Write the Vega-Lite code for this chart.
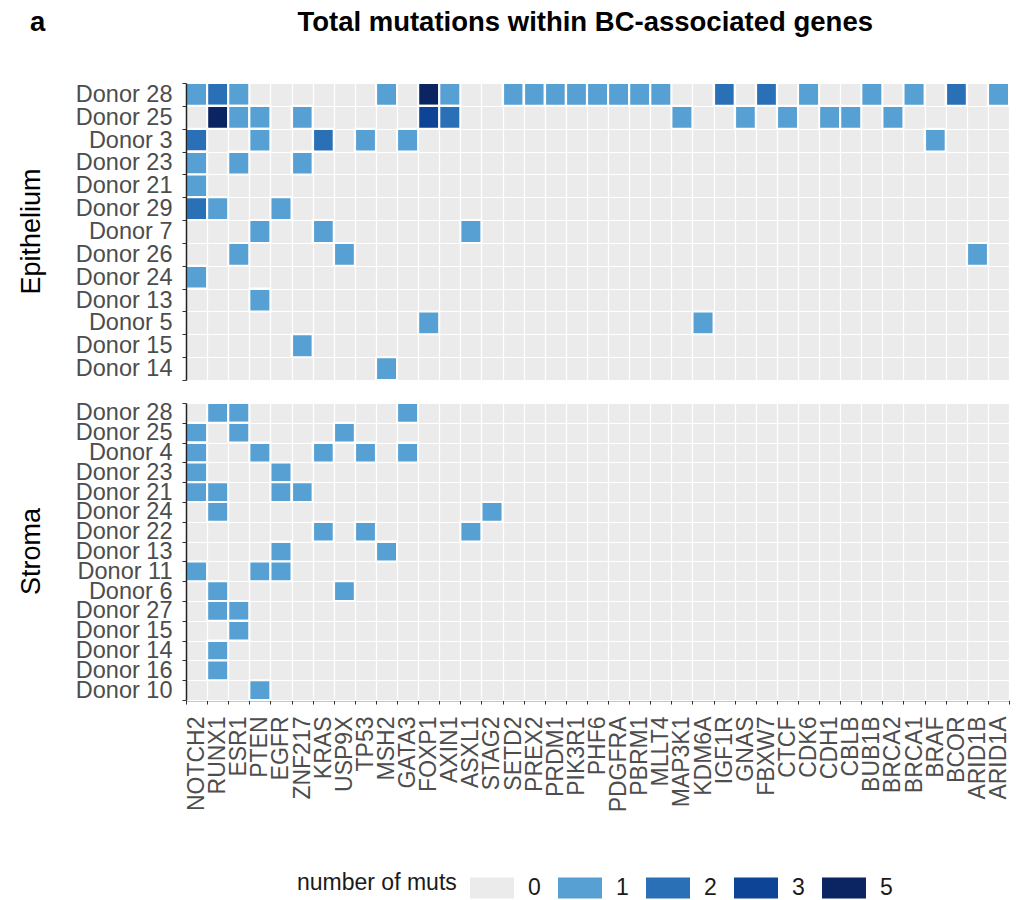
{
  "$schema": "https://vega.github.io/schema/vega-lite/v6.json",
  "padding": {"left": 18, "top": 8, "right": 10, "bottom": 0},
  "background": "white",
  "title": {"text": "a\u00a0\u00a0\u00a0\u00a0\u00a0\u00a0\u00a0\u00a0\u00a0\u00a0\u00a0\u00a0\u00a0\u00a0\u00a0\u00a0\u00a0\u00a0\u00a0\u00a0\u00a0\u00a0\u00a0\u00a0\u00a0\u00a0\u00a0\u00a0\u00a0\u00a0\u00a0\u00a0\u00a0Total mutations within BC-associated genes", "anchor": "start", "fontSize": 27.5, "fontWeight": "bold", "font": "Liberation Sans", "color": "black", "offset": 35, "dx": 12},
  "data": {
    "values": [
      {"p": "Epithelium", "d": "Donor 28", "g": "NOTCH2", "n": 1},
      {"p": "Epithelium", "d": "Donor 28", "g": "RUNX1", "n": 2},
      {"p": "Epithelium", "d": "Donor 28", "g": "ESR1", "n": 1},
      {"p": "Epithelium", "d": "Donor 28", "g": "MSH2", "n": 1},
      {"p": "Epithelium", "d": "Donor 28", "g": "FOXP1", "n": 5},
      {"p": "Epithelium", "d": "Donor 28", "g": "AXIN1", "n": 1},
      {"p": "Epithelium", "d": "Donor 28", "g": "SETD2", "n": 1},
      {"p": "Epithelium", "d": "Donor 28", "g": "PREX2", "n": 1},
      {"p": "Epithelium", "d": "Donor 28", "g": "PRDM1", "n": 1},
      {"p": "Epithelium", "d": "Donor 28", "g": "PIK3R1", "n": 1},
      {"p": "Epithelium", "d": "Donor 28", "g": "PHF6", "n": 1},
      {"p": "Epithelium", "d": "Donor 28", "g": "PDGFRA", "n": 1},
      {"p": "Epithelium", "d": "Donor 28", "g": "PBRM1", "n": 1},
      {"p": "Epithelium", "d": "Donor 28", "g": "MLLT4", "n": 1},
      {"p": "Epithelium", "d": "Donor 28", "g": "IGF1R", "n": 2},
      {"p": "Epithelium", "d": "Donor 28", "g": "FBXW7", "n": 2},
      {"p": "Epithelium", "d": "Donor 28", "g": "CDK6", "n": 1},
      {"p": "Epithelium", "d": "Donor 28", "g": "BUB1B", "n": 1},
      {"p": "Epithelium", "d": "Donor 28", "g": "BRCA1", "n": 1},
      {"p": "Epithelium", "d": "Donor 28", "g": "BCOR", "n": 2},
      {"p": "Epithelium", "d": "Donor 28", "g": "ARID1A", "n": 1},
      {"p": "Epithelium", "d": "Donor 25", "g": "RUNX1", "n": 5},
      {"p": "Epithelium", "d": "Donor 25", "g": "ESR1", "n": 1},
      {"p": "Epithelium", "d": "Donor 25", "g": "PTEN", "n": 1},
      {"p": "Epithelium", "d": "Donor 25", "g": "ZNF217", "n": 1},
      {"p": "Epithelium", "d": "Donor 25", "g": "FOXP1", "n": 3},
      {"p": "Epithelium", "d": "Donor 25", "g": "AXIN1", "n": 2},
      {"p": "Epithelium", "d": "Donor 25", "g": "MAP3K1", "n": 1},
      {"p": "Epithelium", "d": "Donor 25", "g": "GNAS", "n": 1},
      {"p": "Epithelium", "d": "Donor 25", "g": "CTCF", "n": 1},
      {"p": "Epithelium", "d": "Donor 25", "g": "CDH1", "n": 1},
      {"p": "Epithelium", "d": "Donor 25", "g": "CBLB", "n": 1},
      {"p": "Epithelium", "d": "Donor 25", "g": "BRCA2", "n": 1},
      {"p": "Epithelium", "d": "Donor 3", "g": "NOTCH2", "n": 2},
      {"p": "Epithelium", "d": "Donor 3", "g": "PTEN", "n": 1},
      {"p": "Epithelium", "d": "Donor 3", "g": "KRAS", "n": 2},
      {"p": "Epithelium", "d": "Donor 3", "g": "TP53", "n": 1},
      {"p": "Epithelium", "d": "Donor 3", "g": "GATA3", "n": 1},
      {"p": "Epithelium", "d": "Donor 3", "g": "BRAF", "n": 1},
      {"p": "Epithelium", "d": "Donor 23", "g": "NOTCH2", "n": 1},
      {"p": "Epithelium", "d": "Donor 23", "g": "ESR1", "n": 1},
      {"p": "Epithelium", "d": "Donor 23", "g": "ZNF217", "n": 1},
      {"p": "Epithelium", "d": "Donor 21", "g": "NOTCH2", "n": 1},
      {"p": "Epithelium", "d": "Donor 29", "g": "NOTCH2", "n": 2},
      {"p": "Epithelium", "d": "Donor 29", "g": "RUNX1", "n": 1},
      {"p": "Epithelium", "d": "Donor 29", "g": "EGFR", "n": 1},
      {"p": "Epithelium", "d": "Donor 7", "g": "PTEN", "n": 1},
      {"p": "Epithelium", "d": "Donor 7", "g": "KRAS", "n": 1},
      {"p": "Epithelium", "d": "Donor 7", "g": "ASXL1", "n": 1},
      {"p": "Epithelium", "d": "Donor 26", "g": "ESR1", "n": 1},
      {"p": "Epithelium", "d": "Donor 26", "g": "USP9X", "n": 1},
      {"p": "Epithelium", "d": "Donor 26", "g": "ARID1B", "n": 1},
      {"p": "Epithelium", "d": "Donor 24", "g": "NOTCH2", "n": 1},
      {"p": "Epithelium", "d": "Donor 13", "g": "PTEN", "n": 1},
      {"p": "Epithelium", "d": "Donor 5", "g": "FOXP1", "n": 1},
      {"p": "Epithelium", "d": "Donor 5", "g": "KDM6A", "n": 1},
      {"p": "Epithelium", "d": "Donor 15", "g": "ZNF217", "n": 1},
      {"p": "Epithelium", "d": "Donor 14", "g": "MSH2", "n": 1},
      {"p": "Stroma", "d": "Donor 28", "g": "RUNX1", "n": 1},
      {"p": "Stroma", "d": "Donor 28", "g": "ESR1", "n": 1},
      {"p": "Stroma", "d": "Donor 28", "g": "GATA3", "n": 1},
      {"p": "Stroma", "d": "Donor 25", "g": "NOTCH2", "n": 1},
      {"p": "Stroma", "d": "Donor 25", "g": "ESR1", "n": 1},
      {"p": "Stroma", "d": "Donor 25", "g": "USP9X", "n": 1},
      {"p": "Stroma", "d": "Donor 4", "g": "NOTCH2", "n": 1},
      {"p": "Stroma", "d": "Donor 4", "g": "PTEN", "n": 1},
      {"p": "Stroma", "d": "Donor 4", "g": "KRAS", "n": 1},
      {"p": "Stroma", "d": "Donor 4", "g": "TP53", "n": 1},
      {"p": "Stroma", "d": "Donor 4", "g": "GATA3", "n": 1},
      {"p": "Stroma", "d": "Donor 23", "g": "NOTCH2", "n": 1},
      {"p": "Stroma", "d": "Donor 23", "g": "EGFR", "n": 1},
      {"p": "Stroma", "d": "Donor 21", "g": "NOTCH2", "n": 1},
      {"p": "Stroma", "d": "Donor 21", "g": "RUNX1", "n": 1},
      {"p": "Stroma", "d": "Donor 21", "g": "EGFR", "n": 1},
      {"p": "Stroma", "d": "Donor 21", "g": "ZNF217", "n": 1},
      {"p": "Stroma", "d": "Donor 24", "g": "RUNX1", "n": 1},
      {"p": "Stroma", "d": "Donor 24", "g": "STAG2", "n": 1},
      {"p": "Stroma", "d": "Donor 22", "g": "KRAS", "n": 1},
      {"p": "Stroma", "d": "Donor 22", "g": "TP53", "n": 1},
      {"p": "Stroma", "d": "Donor 22", "g": "ASXL1", "n": 1},
      {"p": "Stroma", "d": "Donor 13", "g": "EGFR", "n": 1},
      {"p": "Stroma", "d": "Donor 13", "g": "MSH2", "n": 1},
      {"p": "Stroma", "d": "Donor 11", "g": "NOTCH2", "n": 1},
      {"p": "Stroma", "d": "Donor 11", "g": "PTEN", "n": 1},
      {"p": "Stroma", "d": "Donor 11", "g": "EGFR", "n": 1},
      {"p": "Stroma", "d": "Donor 6", "g": "RUNX1", "n": 1},
      {"p": "Stroma", "d": "Donor 6", "g": "USP9X", "n": 1},
      {"p": "Stroma", "d": "Donor 27", "g": "RUNX1", "n": 1},
      {"p": "Stroma", "d": "Donor 27", "g": "ESR1", "n": 1},
      {"p": "Stroma", "d": "Donor 15", "g": "ESR1", "n": 1},
      {"p": "Stroma", "d": "Donor 14", "g": "RUNX1", "n": 1},
      {"p": "Stroma", "d": "Donor 16", "g": "RUNX1", "n": 1},
      {"p": "Stroma", "d": "Donor 10", "g": "PTEN", "n": 1}
    ]
  },
  "facet": {
    "row": {
      "field": "p", "type": "nominal", "sort": ["Epithelium", "Stroma"],
      "header": {"title": null, "labelAngle": -90, "labelOrient": "left", "labelFontSize": 27, "labelFont": "Liberation Sans", "labelColor": "black", "labelPadding": 127}
    }
  },
  "spacing": {"row": 23},
  "bounds": "flush",
  "resolve": {"scale": {"y": "independent"}},
  "spec": {
    "width": 823,
    "height": 297,
    "mark": {"type": "rect", "stroke": "white", "strokeWidth": 2},
    "encoding": {
      "x": {
        "field": "g", "type": "nominal", "title": null,
        "scale": {"domain": ["NOTCH2","RUNX1","ESR1","PTEN","EGFR","ZNF217","KRAS","USP9X","TP53","MSH2","GATA3","FOXP1","AXIN1","ASXL1","STAG2","SETD2","PREX2","PRDM1","PIK3R1","PHF6","PDGFRA","PBRM1","MLLT4","MAP3K1","KDM6A","IGF1R","GNAS","FBXW7","CTCF","CDK6","CDH1","CBLB","BUB1B","BRCA2","BRCA1","BRAF","BCOR","ARID1B","ARID1A"], "paddingInner": 0, "paddingOuter": 0},
        "axis": {"labelAngle": -90, "labelFontSize": 23, "labelPadding": 12}
      },
      "y": {
        "field": "d", "type": "nominal", "title": null,
        "sort": ["Donor 28","Donor 25","Donor 3","Donor 4","Donor 23","Donor 21","Donor 29","Donor 7","Donor 26","Donor 24","Donor 22","Donor 13","Donor 5","Donor 11","Donor 6","Donor 27","Donor 15","Donor 14","Donor 16","Donor 10"],
        "scale": {"paddingInner": 0, "paddingOuter": 0},
        "axis": {"labelFontSize": 23.5, "labelPadding": 10}
      },
      "color": {
        "field": "n", "type": "ordinal", "title": "number of muts",
        "scale": {"domain": [0, 1, 2, 3, 5], "range": ["#EBEBEB", "#56A0D4", "#2A70B6", "#0D4496", "#0A2561"]},
        "legend": {"orient": "none", "legendX": 111, "legendY": 783}
      }
    }
  },
  "config": {
    "font": "Liberation Sans",
    "view": {"fill": "#EBEBEB", "stroke": null},
    "axis": {"labelFont": "Liberation Sans", "labelColor": "#4D4D4D", "tickColor": "#333333", "tickSize": 4, "domainColor": "#222222", "domainWidth": 1.5, "grid": true, "gridColor": "#FFFFFF", "gridWidth": 1.2, "tickBand": "extent", "labelOverlap": false},
    "legend": {"direction": "horizontal", "titleOrient": "left", "titleAnchor": "middle", "titleBaseline": "middle", "titleFont": "Liberation Sans", "titleFontSize": 23, "titleFontWeight": "normal", "titleColor": "#1A1A1A", "labelFont": "Liberation Sans", "labelFontSize": 23, "labelColor": "#1A1A1A", "symbolType": "M-1,-0.48H1V0.48H-1Z", "symbolSize": 1936, "symbolStrokeWidth": 0, "symbolOpacity": 1, "columnPadding": 17, "labelOffset": 14, "titlePadding": 13}
  }
}
